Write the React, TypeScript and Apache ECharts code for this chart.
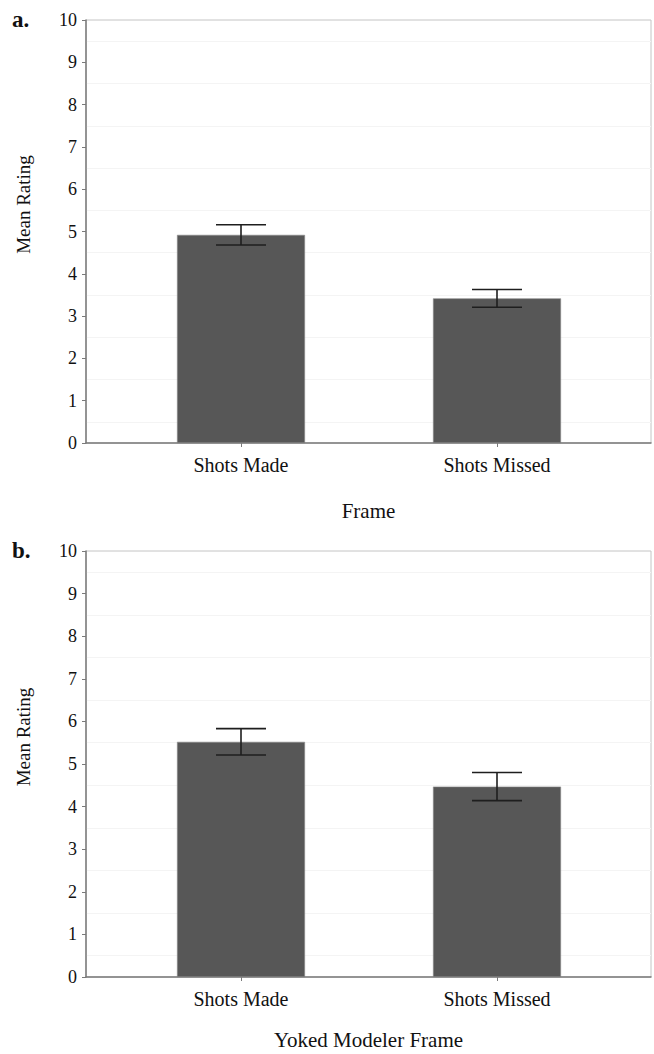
import React, { useEffect, useRef } from "react";
import * as echarts from "echarts";

const categories = ["Shots Made", "Shots Missed"];
const yTicks = [0, 1, 2, 3, 4, 5, 6, 7, 8, 9, 10];
const panelAMeans = [4.92, 3.42];
const panelAErrors = [0.24, 0.21];
const panelBMeans = [5.52, 4.47];
const panelBErrors = [0.31, 0.33];
const panelATitle = "Frame";
const panelBTitle = "Yoked Modeler Frame";
const yTitle = "Mean Rating";

const FONT = "'Liberation Serif', 'Times New Roman', serif";

export default function App() {
  const ref = useRef<HTMLDivElement>(null);
  useEffect(() => {
    document.body.style.margin = "0";
    const chart = echarts.init(ref.current!, null, { renderer: "svg" });

    const panels = [
      { top: 20, height: 423, means: panelAMeans, errs: panelAErrors, title: panelATitle, nameGap: 57, label: "a.", labelY: 21 },
      { top: 551, height: 426, means: panelBMeans, errs: panelBErrors, title: panelBTitle, nameGap: 52, label: "b.", labelY: 552 },
    ];

    const grid: any[] = [];
    const xAxis: any[] = [];
    const yAxis: any[] = [];
    const series: any[] = [];
    const graphic: any[] = [];

    panels.forEach((p, i) => {
      const frameIdx = i * 2;
      const barIdx = i * 2 + 1;
      grid.push({
        left: 86, right: 3, top: p.top, height: p.height,
        show: true, borderColor: "#c4c4c4", borderWidth: 1, backgroundColor: "transparent",
      });
      grid.push({ left: 113, width: 512, top: p.top, height: p.height });

      xAxis.push({
        gridIndex: frameIdx, type: "value", min: 0, max: 1,
        axisLine: { show: true, lineStyle: { color: "#7a7a7a", width: 1.5 } },
        axisTick: { show: false }, axisLabel: { show: false }, splitLine: { show: false },
        name: p.title, nameLocation: "middle", nameGap: p.nameGap,
        nameTextStyle: { fontFamily: FONT, fontSize: 21, color: "#111" },
      });
      xAxis.push({
        gridIndex: barIdx, type: "category", data: categories,
        axisLine: { show: false },
        axisTick: { show: true, alignWithLabel: true, length: 4, lineStyle: { color: "#7a7a7a" } },
        axisLabel: { fontFamily: FONT, fontSize: 20, color: "#111", margin: 12 },
      });

      yAxis.push({
        gridIndex: frameIdx, type: "value", min: 0, max: 10, interval: 1,
        axisLine: { show: true, lineStyle: { color: "#7a7a7a", width: 1.5 } },
        axisTick: { show: true, length: 4, lineStyle: { color: "#7a7a7a" } },
        axisLabel: {
          fontFamily: FONT, fontSize: 18, color: "#111", margin: 9,
          formatter: (v: number) => (yTicks.includes(v) ? String(v) : ""),
        },
        splitLine: { show: false },
        minorTick: { show: false, splitNumber: 2 },
        minorSplitLine: { show: true, lineStyle: { color: "#f4f4f4", width: 1 } },
      });
      yAxis.push({ gridIndex: barIdx, type: "value", min: 0, max: 10, show: false });

      series.push({
        type: "bar", xAxisIndex: barIdx, yAxisIndex: barIdx,
        data: p.means, barWidth: 128,
        itemStyle: { color: "#575757", borderColor: "#8a8a8a", borderWidth: 0.6 },
      });
      series.push({
        type: "custom", xAxisIndex: barIdx, yAxisIndex: barIdx, z: 10,
        data: p.means.map((m, k) => [k, m - p.errs[k], m + p.errs[k]]),
        renderItem: (params: any, api: any) => {
          const x = api.value(0);
          const lo = api.coord([x, api.value(1)]);
          const hi = api.coord([x, api.value(2)]);
          const hw = 25;
          const style = { stroke: "#1e1e1e", lineWidth: 1.6 };
          return {
            type: "group",
            children: [
              { type: "line", shape: { x1: lo[0], y1: lo[1], x2: hi[0], y2: hi[1] }, style },
              { type: "line", shape: { x1: hi[0] - hw, y1: hi[1], x2: hi[0] + hw, y2: hi[1] }, style },
              { type: "line", shape: { x1: lo[0] - hw, y1: lo[1], x2: lo[0] + hw, y2: lo[1] }, style },
            ],
          };
        },
      });

      graphic.push({
        type: "text", left: 12, top: p.labelY - 13,
        style: { text: p.label, fontFamily: FONT, fontSize: 23, fontWeight: "bold", fill: "#111" },
      });
      graphic.push({
        type: "text", x: 23, y: p.top + p.height / 2 - 27, rotation: Math.PI / 2,
        style: { text: yTitle, fontFamily: FONT, fontSize: 19, fill: "#111", align: "center", verticalAlign: "middle" },
      });
    });

    chart.setOption({
      animation: false,
      backgroundColor: "#ffffff",
      grid, xAxis, yAxis, series, graphic,
    });
    return () => chart.dispose();
  }, []);
  return <div ref={ref} style={{ width: 654, height: 1054 }} />;
}
